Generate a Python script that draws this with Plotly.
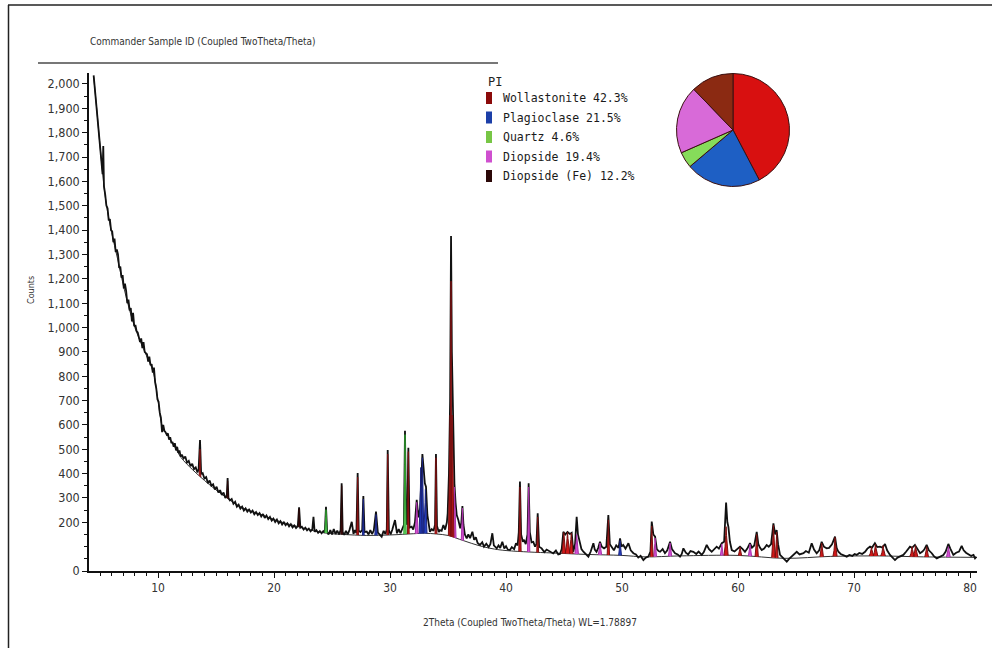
import numpy as np
import plotly.graph_objects as go

two_theta_a = [4.45, 4.55, 4.65, 4.75, 4.85, 4.95, 5.05, 5.15, 5.22, 5.28, 5.34, 5.45, 5.55, 5.65, 5.75, 5.85,
               5.95, 6.05, 6.15, 6.25, 6.35, 6.45, 6.55, 6.65, 6.75, 6.85, 6.95, 7.05, 7.15, 7.25, 7.35, 7.45,
               7.55, 7.65, 7.75, 7.85, 7.95, 8.05, 8.15, 8.25, 8.35, 8.45, 8.55, 8.65, 8.75, 8.85, 8.95, 9.05,
               9.15, 9.25, 9.35, 9.45, 9.55, 9.65, 9.75, 9.85, 9.95, 10.05, 10.15, 10.25, 10.35, 10.45, 10.55,
               10.65, 10.75, 10.85, 10.95, 11.05, 11.15, 11.25, 11.35, 11.45, 11.55, 11.65, 11.75, 11.85, 11.95]
counts_a = [2035, 1985, 1935, 1885, 1830, 1790, 1720, 1660, 1630, 1745, 1580, 1545, 1500, 1490, 1440, 1445,
            1400, 1395, 1350, 1365, 1310, 1320, 1300, 1245, 1250, 1205, 1215, 1160, 1180, 1150, 1100, 1115,
            1070, 1080, 1025, 1060, 1005, 1010, 985, 980, 965, 940, 955, 915, 940, 900, 895, 890,
            860, 880, 845, 850, 815, 835, 775, 750, 705, 695, 650, 630, 570, 600, 575,
            570, 560, 565, 540, 550, 525, 530, 510, 525, 495, 510, 485, 495, 470]

two_theta_b = [12.05, 12.2, 12.35, 12.5, 12.65, 12.8, 12.95, 13.1, 13.25, 13.4, 13.5, 13.62, 13.72, 13.85,
               14.0, 14.15, 14.3, 14.45, 14.6, 14.75, 14.9, 15.05, 15.2, 15.35, 15.5, 15.65, 15.8, 15.93,
               16.0, 16.07, 16.2, 16.35, 16.5, 16.65, 16.8, 16.95, 17.1, 17.25, 17.4, 17.55, 17.7, 17.85,
               18.0, 18.15, 18.3, 18.45, 18.6, 18.75, 18.9, 19.05, 19.2, 19.35, 19.5, 19.65, 19.8, 19.95,
               20.1, 20.25, 20.4, 20.55, 20.7, 20.85, 21.0, 21.15, 21.3, 21.45, 21.6, 21.75, 21.9, 22.05,
               22.16, 22.27, 22.4, 22.55, 22.7, 22.85, 23.0, 23.15, 23.3, 23.4, 23.5, 23.65, 23.8, 23.95,
               24.1, 24.25, 24.38]
counts_b = [478, 462, 470, 445, 452, 430, 440, 418, 425, 405, 418, 538, 398, 402,
            380, 386, 360, 372, 350, 356, 335, 346, 322, 332, 312, 322, 300, 310,
            382, 300, 290, 296, 276, 284, 264, 272, 256, 264, 248, 257, 244, 252,
            240, 248, 233, 242, 230, 238, 224, 234, 218, 228, 213, 222, 207, 215,
            201, 211, 196, 205, 191, 200, 188, 196, 183, 192, 179, 187, 176, 184,
            262, 178, 182, 170, 178, 167, 174, 163, 171, 222, 161, 168, 157, 164,
            155, 164, 158]

two_theta_c = [24.48, 24.58, 24.7, 24.85, 25.0, 25.15, 25.3, 25.45, 25.6, 25.74, 25.83, 25.92, 26.05, 26.2,
               26.35, 26.5, 26.7, 26.85, 26.98, 27.1, 27.21, 27.3, 27.45, 27.6, 27.7, 27.8, 27.99, 28.15,
               28.3, 28.45, 28.6, 28.79, 28.95, 29.1, 29.28, 29.45, 29.6, 29.72, 29.8, 29.9, 30.05, 30.2,
               30.43, 30.6, 30.75, 30.9, 31.05, 31.2, 31.29, 31.38, 31.48, 31.58, 31.68, 31.87, 32.0, 32.15,
               32.3, 32.45, 32.6, 32.7, 32.79, 32.88, 33.0, 33.1, 33.22, 33.44, 33.6, 33.75, 33.88, 33.96,
               34.05, 34.2, 34.3, 34.45, 34.6, 34.75, 34.9, 34.97, 35.08, 35.18, 35.26, 35.33, 35.4, 35.48,
               35.55, 35.65, 35.75, 35.89, 36.05, 36.15, 36.24, 36.33, 36.45, 36.61, 36.75, 36.9, 37.1, 37.25,
               37.4, 37.55, 37.76, 37.95, 38.1, 38.3, 38.5, 38.65, 38.82, 38.95, 39.2, 39.35, 39.5, 39.68,
               39.85, 40.0, 40.15, 40.34, 40.5, 40.7, 40.86, 41.0, 41.1, 41.2, 41.3, 41.45, 41.55, 41.7,
               41.85, 41.95, 42.05, 42.2, 42.35, 42.5, 42.62, 42.73, 42.85, 43.07, 43.3, 43.5, 43.79, 44.07]
counts_c = [264, 160, 150, 168, 150, 172, 152, 166, 150, 168, 360, 160, 148, 165,
            150, 168, 202, 152, 168, 155, 402, 165, 160, 168, 308, 160, 162, 150,
            168, 152, 166, 244, 158, 150, 141, 165, 152, 170, 497, 168, 150, 170,
            209, 155, 172, 155, 175, 190, 576, 200, 190, 506, 178, 182, 170, 200,
            292, 220, 260, 420, 480, 430, 360, 346, 230, 161, 172, 165, 190, 480,
            185, 160, 168, 165, 189, 170, 200, 237, 400, 700, 1376, 900, 661, 420,
            360, 280, 230, 209, 175, 200, 267, 190, 150, 134, 150, 135, 161, 128,
            138, 115, 107, 118, 100, 112, 98, 110, 155, 105, 93, 105, 95, 120,
            92, 102, 88, 86, 98, 90, 114, 105, 160, 367, 150, 120, 128, 110,
            150, 360, 160, 118, 120, 100, 110, 237, 100, 93, 78, 88, 79, 72]

two_theta_d = [44.3, 44.5, 44.65, 44.8, 44.94, 45.1, 45.3, 45.5, 45.66, 45.8, 45.95, 46.09, 46.2, 46.3,
               46.5, 46.67, 46.85, 47.1, 47.3, 47.53, 47.65, 47.8, 47.95, 48.1, 48.25, 48.45, 48.65, 48.82,
               48.95, 49.1, 49.3, 49.5, 49.7, 49.83, 49.95, 50.1, 50.3, 50.55, 50.75, 50.98, 51.2, 51.4,
               51.6, 51.84, 52.05, 52.27, 52.45, 52.56, 52.7, 52.85, 53.0, 53.15, 53.28, 53.5, 53.7, 53.9,
               54.14, 54.3, 54.57, 54.8, 55.0, 55.15, 55.29, 55.5, 55.7, 55.9, 56.15, 56.4, 56.6, 56.87,
               57.05, 57.3, 57.5, 57.73, 57.95, 58.16, 58.35, 58.6, 58.8, 58.97, 59.08, 59.17, 59.3, 59.46,
               59.7, 59.9, 60.17, 60.4, 60.6, 60.8, 61.03, 61.2, 61.4, 61.61, 61.75, 61.9, 62.04, 62.25,
               62.47, 62.65, 62.85, 63.05, 63.2, 63.33, 63.45, 63.62, 63.85, 64.05, 64.2, 64.4, 64.63, 64.85,
               65.06, 65.3, 65.64, 65.85, 66.1, 66.35, 66.55, 66.78, 67.0, 67.21, 67.4, 67.64, 67.85, 68.1,
               68.36, 68.5, 68.65, 68.85, 69.1, 69.37, 69.6, 69.85, 70.05, 70.23, 70.45, 70.7, 70.95, 71.15,
               71.38, 71.55, 71.8, 72.0, 72.24, 72.45, 72.67, 72.85, 73.1, 73.3, 73.53, 73.75, 74.0, 74.25,
               74.5, 74.82, 75.0, 75.25, 75.45, 75.69, 75.9, 76.05, 76.26, 76.45, 76.7, 76.9, 77.13, 77.4,
               77.7, 77.9, 78.13, 78.3, 78.56, 78.8, 79.05, 79.28, 79.45, 79.65, 79.86, 80.1, 80.3, 80.43, 80.55]
counts_d = [84, 68, 70, 90, 161, 150, 160, 152, 157, 79, 110, 223, 150, 128,
            90, 79, 70, 59, 80, 114, 88, 79, 95, 120, 100, 93, 100, 230,
            110, 100, 85, 105, 95, 134, 100, 107, 92, 114, 85, 73, 68, 55,
            62, 45, 55, 59, 80, 203, 150, 141, 90, 82, 79, 90, 73, 85,
            120, 90, 73, 68, 59, 70, 93, 75, 68, 82, 79, 70, 80, 66,
            78, 107, 90, 79, 88, 100, 92, 114, 120, 281, 200, 181, 120, 86,
            80, 90, 100, 90, 79, 92, 114, 96, 105, 161, 110, 95, 86, 92,
            107, 100, 110, 196, 150, 168, 110, 66, 55, 48, 38, 50, 59, 70,
            79, 68, 73, 82, 75, 114, 88, 73, 85, 120, 100, 93, 95, 110,
            141, 95, 79, 70, 64, 59, 66, 62, 70, 66, 74, 70, 79, 92,
            100, 96, 114, 98, 100, 96, 111, 85, 66, 55, 45, 55, 62, 66,
            80, 100, 95, 107, 92, 73, 80, 88, 107, 85, 73, 60, 52, 60,
            66, 80, 111, 92, 66, 75, 80, 103, 85, 75, 70, 62, 66, 52, 58]

two_theta = two_theta_a + two_theta_b + two_theta_c + two_theta_d
counts = counts_a + counts_b + counts_c + counts_d
assert len(two_theta) == len(counts)

# fitted background
bg_theta = [4.45, 4.75, 5.0, 5.5, 6.0, 6.5, 7.0, 7.5, 8.0, 8.5, 9.0, 9.6, 10.0, 10.4, 11.0, 11.5, 12.0, 13.0,
            14.0, 15.0, 16.0, 17.0, 18.0, 19.0, 20.0, 21.0, 22.0, 23.0, 24.0, 25.0, 26.0, 28.0, 30.0, 32.0,
            33.0, 34.0, 35.0, 36.0, 37.0, 38.0, 39.0, 40.0, 42.0, 44.0, 47.0, 50.0, 52.0, 55.0, 60.0, 64.0,
            68.0, 72.0, 76.0, 80.6]
bg_counts = [2030, 1880, 1745, 1520, 1390, 1285, 1175, 1080, 1000, 940, 885, 815, 700, 590, 545, 505, 465, 415,
             372, 333, 298, 266, 246, 230, 211, 196, 183, 170, 159, 153, 150, 146, 148, 153,
             155, 152, 146, 130, 114, 100, 90, 84, 78, 74, 68, 64, 58, 62, 64, 52,
             60, 62, 58, 56]

# identified phases (position, calculated peak top, half width)
phase_names = ["Wollastonite", "Plagioclase", "Quartz", "Diopside", "Diopside (Fe)"]
phase_pct = [42.3, 21.5, 4.6, 19.4, 12.2]

woll_pos = [13.62, 27.21, 29.80, 31.58, 33.96, 35.18, 35.26, 35.36, 41.20, 42.73, 44.98, 45.3, 45.62, 48.82,
            52.56, 58.97, 60.17, 61.61, 63.05, 63.33, 67.21, 68.36, 71.5, 71.85, 72.5, 75.0, 75.3, 76.26]
woll_int = [500, 385, 480, 490, 465, 640, 1190, 640, 345, 222, 158, 160, 155, 210,
            185, 182, 98, 150, 188, 160, 115, 138, 98, 110, 105, 100, 105, 100]
woll_hw = [0.07, 0.07, 0.07, 0.07, 0.08, 0.15, 0.09, 0.15, 0.1, 0.08, 0.16, 0.2, 0.16, 0.1,
           0.12, 0.18, 0.14, 0.14, 0.15, 0.12, 0.15, 0.18, 0.2, 0.2, 0.2, 0.2, 0.2, 0.16]

plag_pos = [27.70, 28.79, 32.65, 32.79, 33.05, 49.83]
plag_int = [295, 232, 425, 465, 335, 125]
plag_hw = [0.07, 0.1, 0.14, 0.12, 0.14, 0.12]

qtz_pos = [24.48, 31.29]
qtz_int = [252, 560]
qtz_hw = [0.1, 0.1]

diop_pos = [32.30, 35.55, 36.24, 41.95, 46.09, 48.1, 52.85, 54.14, 58.6, 61.03, 78.13]
diop_int = [282, 345, 258, 345, 150, 115, 135, 115, 110, 110, 100]
diop_hw = [0.12, 0.14, 0.1, 0.1, 0.15, 0.14, 0.12, 0.14, 0.12, 0.14, 0.16]

dfe_pos = [16.0, 22.16, 25.83]
dfe_int = [370, 255, 350]
dfe_hw = [0.06, 0.06, 0.07]

x_tickvals = [10, 20, 30, 40, 50, 60, 70, 80]
y_tickvals = [0, 200, 300, 400, 500, 600, 700, 800, 900, 1000, 1100, 1200, 1300, 1400, 1500, 1600,
              1700, 1800, 1900, 2000]
y_ticktext = ["0", "200", "300", "400", "500", "600", "700", "800", "900", "1,000", "1,100", "1,200",
              "1,300", "1,400", "1,500", "1,600", "1,700", "1,800", "1,900", "2,000"]

# ---------------- styling ----------------
FILL = ["#d01818", "#2340c0", "#66d966", "#d24fd2", "#4a0d0d"]
EDGE = ["#7a1010", "#1a237e", "#2e9e2e", "#a830a8", "#2a0808"]
SWATCH = ["#8b0a0a", "#1c3fa8", "#77c645", "#cf4fcf", "#2b0808"]
PIE = ["#d81010", "#1e5fc4", "#86dc5a", "#d86ad8", "#8b2a12"]
NARROW = "DejaVu Sans Condensed, Liberation Sans Narrow, Arial Narrow, sans-serif"
MONO = "DejaVu Sans Mono, Liberation Mono, monospace"

PROFILE_DX = [-1, -0.5, -0.2, 0, 0.2, 0.5, 1]
PROFILE_FR = [0, 0.3, 0.7, 1, 0.7, 0.3, 0]


def peak_polys(pos, inten, hw):
    xs, ys = [], []
    for p, h, w in zip(pos, inten, hw):
        for dx, fr in zip(PROFILE_DX, PROFILE_FR):
            xx = p + dx * w
            base = float(np.interp(xx, bg_theta, bg_counts))
            xs.append(xx)
            ys.append(base + (h - base) * fr)
        xs.append(None)
        ys.append(None)
    return xs, ys


W, H = 995, 648
L, R, T, B = 89, 977, 73, 571


def fx(px):
    return (px - L) / (R - L)


def fy(py):
    return (B - py) / (B - T)


fig = go.Figure()

fig.add_trace(go.Scatter(x=bg_theta, y=bg_counts, mode="lines", line=dict(color="#333333", width=1, shape="spline"),
                         showlegend=False, hoverinfo="skip"))
fig.add_trace(go.Scatter(x=two_theta, y=counts, mode="lines", line=dict(color="#111111", width=1.8),
                         name="Commander Sample ID", showlegend=False))

phase_data = [(woll_pos, woll_int, woll_hw), (plag_pos, plag_int, plag_hw), (qtz_pos, qtz_int, qtz_hw),
              (diop_pos, diop_int, diop_hw), (dfe_pos, dfe_int, dfe_hw)]
order = [4, 1, 2, 3, 0]
for i in order:
    xs, ys = peak_polys(*phase_data[i])
    fig.add_trace(go.Scatter(x=xs, y=ys, mode="lines", fill="toself", fillcolor=FILL[i],
                             line=dict(color=EDGE[i], width=1), name=phase_names[i],
                             showlegend=False, hoverinfo="skip"))

fig.add_trace(go.Pie(values=phase_pct, labels=phase_names, sort=False, direction="clockwise", rotation=0,
                     marker=dict(colors=PIE, line=dict(color="#3a1010", width=1)), textinfo="none",
                     domain=dict(x=[fx(676.5), fx(789.5)], y=[fy(186.5), fy(73.5)]), showlegend=False,
                     hoverinfo="label+percent"))

annotations = []
shapes = []
# title + underline
annotations.append(dict(x=fx(88), y=fy(42), xref="paper", yref="paper", xanchor="left", yanchor="middle",
                        text="Commander Sample ID (Coupled TwoTheta/Theta)", showarrow=False,
                        font=dict(family=NARROW, size=10, color="#333333")))
shapes.append(dict(type="line", xref="paper", yref="paper", x0=fx(38), x1=fx(498), y0=fy(63), y1=fy(63),
                   line=dict(color="#777777", width=2)))
# frame
shapes.append(dict(type="line", xref="paper", yref="paper", x0=fx(8), x1=fx(992), y0=fy(5), y1=fy(5),
                   line=dict(color="#222222", width=1.5)))
shapes.append(dict(type="line", xref="paper", yref="paper", x0=fx(8.5), x1=fx(8.5), y0=fy(5), y1=fy(648),
                   line=dict(color="#222222", width=1.5)))
# axis titles
annotations.append(dict(x=fx(530), y=fy(622), xref="paper", yref="paper", xanchor="center", yanchor="middle",
                        text="2Theta (Coupled TwoTheta/Theta) WL=1.78897", showarrow=False,
                        font=dict(family=NARROW, size=10, color="#333333")))
annotations.append(dict(x=fx(31), y=fy(290), xref="paper", yref="paper", xanchor="center", yanchor="middle",
                        text="Counts", textangle=-90, showarrow=False,
                        font=dict(family=NARROW, size=9, color="#333333")))
# phase legend
annotations.append(dict(x=fx(486), y=fy(82), xref="paper", yref="paper", xanchor="left", yanchor="middle",
                        text="PI", showarrow=False, font=dict(family=MONO, size=12, color="#222222")))
row_y = [98, 117.5, 137, 156.5, 176]
for i, name in enumerate(phase_names):
    annotations.append(dict(x=fx(501), y=fy(row_y[i]), xref="paper", yref="paper", xanchor="left",
                            yanchor="middle", text=f"{name} {phase_pct[i]}%", showarrow=False,
                            font=dict(family=MONO, size=11.5, color="#1a1a1a")))
    shapes.append(dict(type="rect", xref="paper", yref="paper", x0=fx(486), x1=fx(492),
                       y0=fy(row_y[i] + 6), y1=fy(row_y[i] - 6), fillcolor=SWATCH[i], line=dict(width=0)))

fig.update_layout(
    width=W, height=H, autosize=False,
    margin=dict(l=L, r=W - R, t=T, b=H - B),
    paper_bgcolor="white", plot_bgcolor="white",
    showlegend=False,
    annotations=annotations, shapes=shapes,
    xaxis=dict(range=[4.05, 80.6], showline=True, linecolor="#111111", linewidth=1.5, mirror=False,
               ticks="outside", ticklen=5, tickwidth=1, tickcolor="#111111", tickvals=x_tickvals,
               showgrid=False, zeroline=False, tickfont=dict(family=NARROW, size=12, color="#333333"),
               minor=dict(ticks="outside", ticklen=3, tickwidth=1, tickcolor="#111111", dtick=1, tick0=0,
                          showgrid=False)),
    yaxis=dict(range=[0, 2045], showline=True, linecolor="#111111", linewidth=1.5,
               ticks="outside", ticklen=5, tickwidth=1, tickcolor="#111111", tickmode="array",
               tickvals=y_tickvals, ticktext=y_ticktext, showgrid=False, zeroline=False,
               tickfont=dict(family=NARROW, size=12.5, color="#333333"),
               minor=dict(ticks="outside", ticklen=3, tickwidth=1, tickcolor="#111111", dtick=50, tick0=0,
                          showgrid=False)),
)

fig.write_html("out.html", config={"displayModeBar": False},
               post_script="document.body.style.margin='0px';")
